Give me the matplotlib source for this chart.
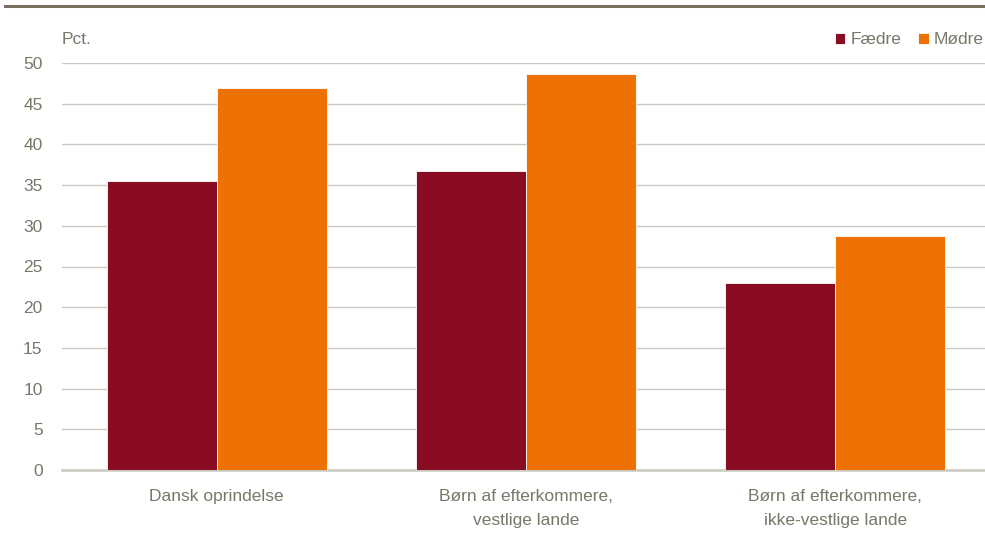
import matplotlib.pyplot as plt
import numpy as np
from matplotlib import font_manager

# data
categories = ['Dansk oprindelse', 'Børn af efterkommere,\nvestlige lande', 'Børn af efterkommere,\nikke-vestlige lande']
faedre = [35.5, 36.7, 23.0]
modre = [46.9, 48.6, 28.7]
yticks = list(range(0, 51, 5))

# smalt font hvis det findes, ellers Liberation Sans
names = [f.name for f in font_manager.fontManager.ttflist]
fam = 'Liberation Sans Narrow' if 'Liberation Sans Narrow' in names else 'Liberation Sans'
plt.rcParams['font.family'] = [fam, 'DejaVu Sans']
txt = '#77776a'
fs = 12.5

fig = plt.figure(figsize=(9.85, 5.37), dpi=100)
ax = fig.add_axes([62/985, 1 - 470/537, 928/985, 407/537])

x = np.arange(len(categories))
w = 0.356
ax.bar(x - w/2, faedre, w, color='#8a0c23', edgecolor='white', linewidth=0.6, label='Fædre', zorder=3)
ax.bar(x + w/2, modre, w, color='#ee7203', edgecolor='white', linewidth=0.6, label='Mødre', zorder=3)

ax.set_xlim(-0.5, 2.5)
ax.set_ylim(0, 50)
ax.set_yticks(yticks)
ax.set_xticks(x)
ax.set_xticklabels(categories, linespacing=1.75)
ax.grid(axis='y', color='#c9c9bf', linewidth=1.0, zorder=0)
ax.tick_params(axis='both', length=0, labelsize=fs, colors=txt)
ax.tick_params(axis='y', pad=14)
ax.tick_params(axis='x', pad=14)
for s in ['top', 'right', 'left']:
    ax.spines[s].set_visible(False)
ax.spines['bottom'].set_color('#c9c9bf')
ax.spines['bottom'].set_linewidth(1.8)

fig.text(62/985, 1 - 40/537, 'Pct.', fontsize=fs, color=txt, va='center', ha='left')

leg = fig.legend(*ax.get_legend_handles_labels(), loc='center right',
                 bbox_to_anchor=(984/985, 1 - 40/537), ncol=2, frameon=False,
                 fontsize=fs, handlelength=0.6, handleheight=0.6, handletextpad=0.3,
                 columnspacing=1.0, borderaxespad=0, borderpad=0)
for t in leg.get_texts():
    t.set_color(txt)

# top rule
fig.add_artist(plt.Line2D([5/985, 1.0], [1 - 6/537, 1 - 6/537], color='#76725f', linewidth=2.2))

fig.savefig('out.png', dpi=100)
